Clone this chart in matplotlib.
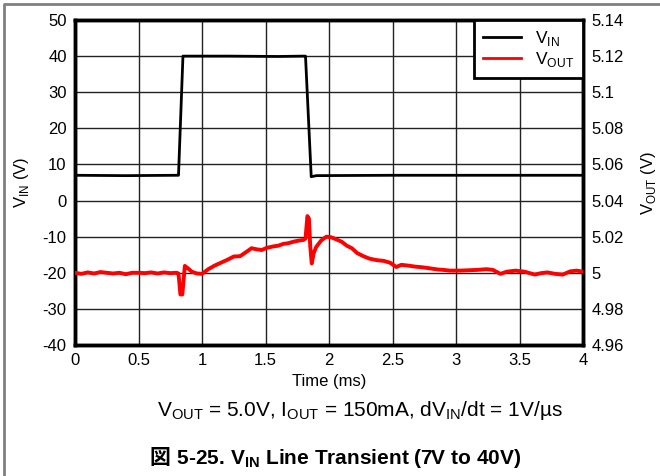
import matplotlib
matplotlib.use("Agg")
import matplotlib.pyplot as plt
from matplotlib.lines import Line2D

plt.rcParams['font.family'] = ['Liberation Sans', 'Noto Sans CJK JP', 'DejaVu Sans']
plt.rcParams['mathtext.fontset'] = 'custom'
plt.rcParams['mathtext.rm'] = 'Liberation Sans'
plt.rcParams['mathtext.bf'] = 'Liberation Sans:bold'
plt.rcParams['axes.unicode_minus'] = False

# VIN trace (V) vs time (ms)
vin_t = [0.0, 0.40, 0.80, 0.815, 0.85, 1.20, 1.60, 1.80, 1.815, 1.86, 1.90, 2.5, 3.0, 3.5, 4.0]
vin_v = [7.0, 6.9, 7.0, 7.0, 40.0, 40.0, 39.9, 40.0, 40.0, 6.6, 6.9, 7.0, 7.0, 7.0, 7.0]

# VOUT trace (V) vs time (ms)
vout_t = [0.00, 0.05, 0.10, 0.15, 0.20, 0.25, 0.30, 0.35, 0.40, 0.45, 0.50, 0.55, 0.60,
          0.65, 0.70, 0.75, 0.80, 0.815, 0.83, 0.845, 0.865, 0.89, 0.92, 0.96, 1.00,
          1.05, 1.10, 1.15, 1.20, 1.25, 1.30, 1.35, 1.39, 1.43, 1.47, 1.51, 1.56,
          1.60, 1.64, 1.68, 1.72, 1.76, 1.80, 1.815, 1.83, 1.842, 1.852, 1.864, 1.88,
          1.90, 1.94, 1.98, 2.02, 2.06, 2.10, 2.14, 2.18, 2.22, 2.27, 2.32, 2.375,
          2.43, 2.48, 2.53, 2.57, 2.62, 2.68, 2.74, 2.80, 2.86, 2.90, 2.95, 3.03,
          3.10, 3.17, 3.24, 3.29, 3.35, 3.40, 3.47, 3.54, 3.62, 3.67, 3.72, 3.78,
          3.84, 3.90, 3.95, 4.00]
vout_v = [5.0000, 4.9994, 5.0002, 4.9996, 5.0004, 5.0000, 4.9996, 5.0000, 4.9992, 5.0000,
          5.0000, 4.9998, 5.0002, 4.9996, 5.0002, 4.9998, 5.0000, 4.9996, 4.9880, 4.9880,
          5.0038, 5.0024, 5.0006, 4.9996, 4.9994, 5.0020, 5.0040, 5.0056, 5.0072, 5.0090,
          5.0092, 5.0116, 5.0136, 5.0130, 5.0126, 5.0138, 5.0146, 5.0150, 5.0160, 5.0164,
          5.0172, 5.0178, 5.0182, 5.0190, 5.0314, 5.0300, 5.0150, 5.0052, 5.0110,
          5.0144, 5.0180, 5.0200, 5.0196, 5.0184, 5.0172, 5.0150, 5.0136, 5.0110, 5.0092,
          5.0078, 5.0070, 5.0066, 5.0056, 5.0032, 5.0044, 5.0040, 5.0034, 5.0030, 5.0024,
          5.0018, 5.0016, 5.0012, 5.0012, 5.0014, 5.0016, 5.0020, 5.0016, 4.9994,
          5.0006, 5.0012, 5.0006, 4.9990, 4.9998, 5.0002, 4.9994, 4.9990, 5.0008,
          5.0012, 5.0006]

x_ticks = [0, 0.5, 1, 1.5, 2, 2.5, 3, 3.5, 4]
x_labels = ['0', '0.5', '1', '1.5', '2', '2.5', '3', '3.5', '4']
left_ticks = [-40, -30, -20, -10, 0, 10, 20, 30, 40, 50]
right_ticks = [4.96, 4.98, 5.0, 5.02, 5.04, 5.06, 5.08, 5.1, 5.12, 5.14]
right_labels = ['4.96', '4.98', '5', '5.02', '5.04', '5.06', '5.08', '5.1', '5.12', '5.14']

fig = plt.figure(figsize=(6.6, 4.76), dpi=100)
ax = fig.add_axes([75/660, 1-345/476, (583-75)/660, (345-20)/476])
ax2 = ax.twinx()

ax.set_xlim(0, 4)
ax.set_ylim(-40, 50)
ax2.set_ylim(4.96, 5.14)

ax.set_xticks(x_ticks)
ax.set_xticklabels(x_labels)
ax.set_yticks(left_ticks)
ax2.set_yticks(right_ticks)
ax2.set_yticklabels(right_labels)

ax.grid(True, color='#222222', linewidth=1.0)
ax.set_axisbelow(True)

for a in (ax, ax2):
    for s in a.spines.values():
        s.set_linewidth(2.5)
        s.set_color('black')
    a.tick_params(length=0, labelsize=12, pad=6)

ax.plot(vin_t, vin_v, color='black', linewidth=2.0, zorder=3)
ax2.plot(vout_t, vout_v, color='#ff0000', linewidth=2.8, zorder=3)

ax.set_xlabel('Time (ms)', fontsize=12, labelpad=4)
ax.set_ylabel(r'V$_{\mathrm{IN}}$ (V)', fontsize=12, labelpad=8)
ax2.set_ylabel(r'V$_{\mathrm{OUT}}$ (V)', fontsize=12, labelpad=11)

handles = [Line2D([], [], color='black', linewidth=2.0),
           Line2D([], [], color='#ff0000', linewidth=2.0)]
leg = ax2.legend(handles, [r'V$_{\mathrm{IN}}$', r'V$_{\mathrm{OUT}}$'],
                 loc='upper right', bbox_to_anchor=(1.0, 1.0), fancybox=False,
                 framealpha=1, edgecolor='black', fontsize=12.5, borderaxespad=0,
                 handlelength=2.2, labelspacing=0.15, borderpad=0.5)
leg.get_frame().set_linewidth(2.0)

fig.text(359.5/660, 1-410/476,
         r'V$_{\mathrm{OUT}}$ = 5.0V, I$_{\mathrm{OUT}}$ = 150mA, dV$_{\mathrm{IN}}$/dt = 1V/µs',
         ha='center', va='center', fontsize=15)

# Caption: CJK glyph as plain text, remainder with mathtext subscript
renderer = fig.canvas.get_renderer()
cap_y = 1 - 458/476
t_kanji = fig.text(0, cap_y, '図', ha='left', va='center', fontsize=15,
                   fontweight='bold', family=['Noto Sans CJK JP'])
t_rest = fig.text(0, cap_y, r' 5-25. V$_{\mathbf{IN}}$ Line Transient (7V to 40V)',
                  ha='left', va='center', fontsize=15, fontweight='bold')
w1 = t_kanji.get_window_extent(renderer).width
w2 = t_rest.get_window_extent(renderer).width
start = 335.5 - (w1 + w2) / 2
t_kanji.set_x(start / 660)
t_rest.set_x((start + w1) / 660)

fig.add_artist(Line2D([3.5/660, 3.5/660, 1.0], [0, 1-3.5/476, 1-3.5/476],
                      transform=fig.transFigure, color='#808080', linewidth=2))

fig.savefig('out.png', dpi=100)
